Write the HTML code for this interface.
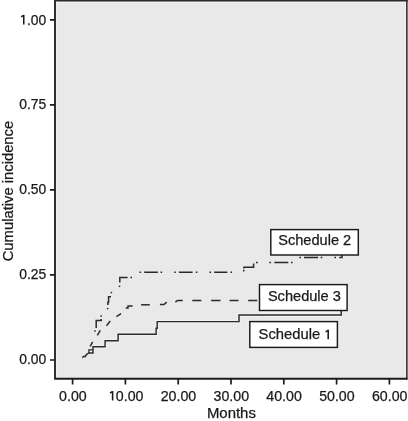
<!DOCTYPE html>
<html><head><meta charset="utf-8"><style>
html,body{margin:0;padding:0;background:#fff;width:408px;height:421px;overflow:hidden}
svg{display:block;will-change:transform}
text{font-family:"Liberation Sans",sans-serif;fill:#1a1a1a;stroke:#1a1a1a;stroke-width:0.25}
.h{fill:none;stroke:none}
</style></head><body>
<svg width="408" height="421" viewBox="0 0 408 421">
<!-- plot area -->
<rect x="55" y="0" width="351.5" height="378.4" fill="#e9e9e9"/>
<path d="M56.5,2 V377 M405.5,2 V377" stroke="#f1f1f1" stroke-width="1"/>
<path d="M56,2.5 H405" stroke="#f2f2f2" stroke-width="1"/>
<g fill="none">
<path d="M55,0 V378.7" stroke="#262626" stroke-width="1.9"/>
<path d="M406.85,0 V379.6" stroke="#3a3a3a" stroke-width="1.7"/>
<path d="M54.2,0.8 H407.7" stroke="#2a2a2a" stroke-width="1.6"/>
<path d="M54.2,378.75 H407.4" stroke="#1c1c1c" stroke-width="1.85"/>
<!-- y ticks -->
<path d="M49.9,19.9 H55 M49.9,104.9 H55 M49.9,189.9 H55 M49.9,274.95 H55 M49.9,360 H55" stroke="#1c1c1c" stroke-width="1.7"/>
<!-- x ticks -->
<path d="M72.6,378.5 V384.6 M125.4,378.5 V384.6 M178.2,378.5 V384.6 M231,378.5 V384.6 M283.8,378.5 V384.6 M336.6,378.5 V384.6 M389.4,378.5 V384.6" stroke="#1c1c1c" stroke-width="1.7"/>
</g>
<!-- y tick labels -->
<g font-size="14.2" text-anchor="end">
<text x="46.3" y="24.6" textLength="27" lengthAdjust="spacingAndGlyphs"><tspan class="h">1</tspan>.00</text>
<text x="46.3" y="109.3" textLength="27" lengthAdjust="spacingAndGlyphs">0.75</text>
<text x="46.3" y="194.4" textLength="27" lengthAdjust="spacingAndGlyphs">0.50</text>
<text x="46.3" y="279.4" textLength="27" lengthAdjust="spacingAndGlyphs">0.25</text>
<text x="46.3" y="364.4" textLength="27" lengthAdjust="spacingAndGlyphs">0.00</text>
</g>
<!-- x tick labels -->
<g font-size="14.2" text-anchor="middle">
<text x="72.9" y="400.6">0.00</text>
<text x="125.7" y="400.6"><tspan class="h">1</tspan>0.00</text>
<text x="178.5" y="400.6">20.00</text>
<text x="231.3" y="400.6">30.00</text>
<text x="284.1" y="400.6">40.00</text>
<text x="336.9" y="400.6">50.00</text>
<text x="389.7" y="400.6">60.00</text>
</g>
<text x="206.9" y="417.8" font-size="14.2" textLength="49" lengthAdjust="spacingAndGlyphs">Months</text>
<text transform="translate(12.6,261.3) rotate(-90)" font-size="14.6" textLength="140.5" lengthAdjust="spacingAndGlyphs">Cumulative incidence</text>

<!-- halo -->
<g stroke="#f1f1f1" fill="none" stroke-width="3.8" opacity="1">
<path d="M93,346.8 H105.1 V340.7 H118.1 V334.2 H156.1 V328.3 H157.2 V321.6 H239 V315 H341.2"/>
</g>
<!-- Schedule 1 solid -->
<rect x="259.5" y="310.8" width="81" height="3.4" fill="#f2f2f2"/>
<rect x="89.5" y="350.5" width="3" height="1.8" fill="#f4f4f4"/>
<g stroke="#2a2a2a" fill="none" stroke-width="1.45" stroke-linejoin="miter">
<path d="M82.3,357.6 L84,356.2 L85.2,356.6 L86.6,354.3 L88.9,352.9 H93 V346.8 H105.1 V340.7 H118.1 V334.2 H156.1 V328.3 H157.2 V321.6 H239 V315 H341.2 V310.5"/>
</g>
<!-- Schedule 3 dashed (explicit segments) -->
<g stroke="#2a2a2a" fill="none" stroke-width="1.5">
<path d="M88.9,352.9 V349.9 H93" stroke-width="1.3"/>
<path d="M90.2,346.4 L92.6,341.8"/>
<path d="M97.3,335.3 L100.3,330.4"/>
<path d="M106.5,325.7 L110.2,321"/>
<path d="M116.4,316.7 L121,313.7"/>
<path d="M125.7,308.1 H128 V306 H132.6"/>
<path d="M141.1,304.8 H149.8"/>
<path d="M159.9,304.5 H164 L166.7,302.1"/>
<path d="M175.4,302.1 L177.5,300.4 H182.8"/>
<path d="M192.3,300.4 H201.4 M211.1,300.4 H220.5 M229.6,300.4 H238.5 M248.2,300.4 H257.2"/>
</g>
<!-- Schedule 2 dash-dot (explicit segments) -->
<g stroke="#2a2a2a" fill="none" stroke-width="1.5">
<path d="M95,330.2 V331.7"/>
<path d="M96.2,328 V320.6 H101.2 V319"/>
<path d="M101.2,316.7 V315.2"/>
<path d="M107.6,309.3 V307.9"/>
<path d="M111,296.7 H108.6 V302.2 H107.9 V305"/>
<path d="M111.4,293.3 V291.8"/>
<path d="M119.5,287.1 V285.6"/>
<path d="M119.8,282.6 V277.4 H127.6"/>
<path d="M130.4,277.4 H132"/>
<path d="M139.5,272.3 H141.1 M144.2,272.3 H157.9 M160.5,272.3 H162.1"/>
<path d="M174.2,272.3 H175.8 M178.9,272.3 H192.6 M195.8,272.3 H197.4"/>
<path d="M209.5,272.3 H211.1 M214.2,272.3 H227.4 M230.5,272.3 H232.1"/>
<path d="M243.7,271.6 V269.8 M243.9,268.6 V267.3 H253.6 V263.4 M256,262.5 H257.8"/>
<path d="M269.4,262.6 H271 M274.3,262.6 H288.3 M291,262.6 H292.6"/>
<path d="M299.4,257.4 H301 M304,257.4 H318.1 M320.7,257.4 H322.3"/>
<path d="M334.4,257.4 H336 M339.2,257.4 H342 V254.5"/>
</g>

<!-- legend boxes -->
<g fill="#fff" stroke="#1a1a1a" stroke-width="1.45">
<rect x="270.8" y="229.6" width="87.5" height="25.4"/>
<rect x="259.5" y="284.6" width="87.6" height="25.9"/>
<rect x="249.8" y="321.6" width="87.6" height="25.8"/>
</g>
<g font-size="14.6" text-anchor="middle">
<text x="314.7" y="245.2">Schedule 2</text>
<text x="304.4" y="300.9">Schedule 3</text>
<text x="258.6" y="339.4" text-anchor="start" textLength="61.6" lengthAdjust="spacingAndGlyphs">Schedule</text>
</g>
<g fill="none"><path d="M23.75,14.9 V24.5" stroke="#1a1a1a" stroke-width="1.55"/><path d="M23.45,15.40 L21.15,16.90" stroke="#1a1a1a" stroke-width="1.5"/><path d="M112.6,391.1 V400.5" stroke="#1a1a1a" stroke-width="1.55"/><path d="M112.30,391.60 L110.00,393.10" stroke="#1a1a1a" stroke-width="1.5"/><path d="M328.2,329.8 V339.3" stroke="#1a1a1a" stroke-width="1.55"/><path d="M327.90,330.30 L325.60,331.80" stroke="#1a1a1a" stroke-width="1.5"/></g>
</svg>
</body></html>
